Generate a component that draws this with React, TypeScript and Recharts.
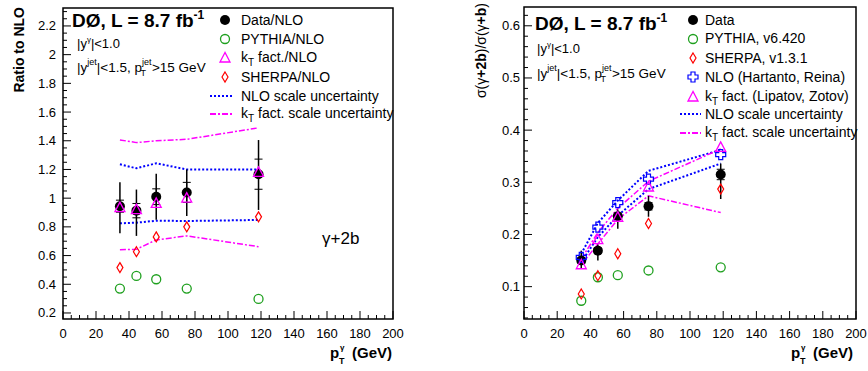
import React from 'react';
import { ComposedChart, Line, Scatter, ErrorBar, XAxis, YAxis, ReferenceArea } from 'recharts';

const FONT = '"Liberation Sans", Arial, Helvetica, sans-serif';

// photon pT bin centres (GeV)
const PT = [34.5, 44.5, 56.5, 75, 118.5];

// left panel: ratio to NLO
const RATIO_DATA = [0.944, 0.913, 1.01, 1.04, 1.167];
const RATIO_ERR_LO = [0.188, 0.176, 0.16, 0.164, 0.249];
const RATIO_ERR_HI = [0.166, 0.147, 0.16, 0.16, 0.238];
const RATIO_SYS = [0.042, 0.05, 0.055, 0.07, 0.105];
const RATIO_PYTHIA = [0.37, 0.458, 0.435, 0.37, 0.298];
const RATIO_KT = [0.934, 0.92, 0.964, 1.0, 1.18];
const RATIO_SHERPA = [0.516, 0.627, 0.73, 0.8, 0.87];
const RATIO_NLO_UP = [1.236, 1.208, 1.243, 1.2, 1.2];
const RATIO_NLO_LO = [0.825, 0.829, 0.843, 0.841, 0.848];
const RATIO_KT_UP = [1.406, 1.387, 1.4, 1.41, 1.49];
const RATIO_KT_LO = [0.64, 0.644, 0.709, 0.737, 0.662];

// right panel: sigma(g+2b)/sigma(g+b)
const FRAC_DATA = [0.15, 0.169, 0.235, 0.254, 0.315];
const FRAC_ERR_LO = [0.016, 0.019, 0.024, 0.02, 0.047];
const FRAC_ERR_HI = [0.019, 0.012, 0.013, 0.02, 0.021];
const FRAC_SYS = [0.005, 0.005, 0.006, 0.007, 0.01];
const FRAC_PYTHIA = [0.073, 0.118, 0.122, 0.131, 0.137];
const FRAC_SHERPA = [0.086, 0.121, 0.163, 0.221, 0.287];
const FRAC_NLO = [0.156, 0.214, 0.261, 0.306, 0.353];
const FRAC_KT = [0.142, 0.19, 0.233, 0.291, 0.367];
const FRAC_NLO_UP = [0.163, 0.222, 0.265, 0.322, 0.362];
const FRAC_NLO_LO = [0.147, 0.195, 0.236, 0.287, 0.336];
const FRAC_KT_UP = [0.153, 0.204, 0.25, 0.302, 0.364];
const FRAC_KT_LO = [0.142, 0.182, 0.229, 0.274, 0.242];

const X_TICKS = Array.from({ length: 41 }, (_, i) => i * 5);
const LEFT_Y_TICKS = Array.from({ length: 43 }, (_, i) => (i + 4) * 5 / 100);
const RIGHT_Y_TICKS = Array.from({ length: 30 }, (_, i) => (i + 2) * 2 / 100);

const ratioRows = PT.map((pt, i) => ({
  pt,
  data: RATIO_DATA[i],
  dataErr: [RATIO_ERR_LO[i], RATIO_ERR_HI[i]],
  dataSys: [RATIO_SYS[i], RATIO_SYS[i]],
  pythia: RATIO_PYTHIA[i],
  kt: RATIO_KT[i],
  sherpa: RATIO_SHERPA[i],
  nloUp: RATIO_NLO_UP[i],
  nloLo: RATIO_NLO_LO[i],
  ktUp: RATIO_KT_UP[i],
  ktLo: RATIO_KT_LO[i],
}));

const fracRows = PT.map((pt, i) => ({
  pt,
  data: FRAC_DATA[i],
  dataErr: [FRAC_ERR_LO[i], FRAC_ERR_HI[i]],
  dataSys: [FRAC_SYS[i], FRAC_SYS[i]],
  pythia: FRAC_PYTHIA[i],
  sherpa: FRAC_SHERPA[i],
  nlo: FRAC_NLO[i],
  kt: FRAC_KT[i],
  nloUp: FRAC_NLO_UP[i],
  nloLo: FRAC_NLO_LO[i],
  ktUp: FRAC_KT_UP[i],
  ktLo: FRAC_KT_LO[i],
}));

const GREEN = '#1fa01f';
const MAGENTA = '#ff00ff';
const RED = '#ff0000';
const BLUE = '#0000ff';

// marker shapes
const DataDot = (p: any) => (p.cx == null ? null : <circle cx={p.cx} cy={p.cy} r={5} fill="#000" />);
const OpenCircle = (p: any) =>
  p.cx == null ? null : <circle cx={p.cx} cy={p.cy} r={4.5} fill="none" stroke={GREEN} strokeWidth={1.3} />;
const Triangle = (p: any) =>
  p.cx == null ? null : (
    <polygon
      points={`${p.cx},${p.cy - 5.5} ${p.cx - 5},${p.cy + 4} ${p.cx + 5},${p.cy + 4}`}
      fill="none"
      stroke={MAGENTA}
      strokeWidth={1.3}
    />
  );
const Diamond = (p: any) =>
  p.cx == null ? null : (
    <polygon
      points={`${p.cx},${p.cy - 5} ${p.cx + 3},${p.cy} ${p.cx},${p.cy + 5} ${p.cx - 3},${p.cy}`}
      fill="none"
      stroke={RED}
      strokeWidth={1.2}
    />
  );
const Cross = (p: any) => {
  if (p.cx == null) return null;
  const { cx, cy } = p;
  const s = 2;
  const l = 5;
  const pts = [
    [cx - s, cy - l], [cx + s, cy - l], [cx + s, cy - s], [cx + l, cy - s], [cx + l, cy + s], [cx + s, cy + s],
    [cx + s, cy + l], [cx - s, cy + l], [cx - s, cy + s], [cx - l, cy + s], [cx - l, cy - s], [cx - s, cy - s],
  ];
  return <polygon points={pts.map((q) => q.join(',')).join(' ')} fill="none" stroke={BLUE} strokeWidth={1.2} />;
};

const XTick = (props: any) => {
  const { x, y, payload } = props;
  const v = payload.value;
  const major = v % 20 === 0;
  return (
    <g>
      <line x1={x} x2={x} y1={y} y2={y - (major ? 8 : 4)} stroke="#000" />
      {major && (
        <text x={x} y={y + 19} textAnchor="middle" fontSize={13} fontFamily={FONT} fill="#000">
          {v}
        </text>
      )}
    </g>
  );
};

const makeYTick = (step: number, gap: number) => (props: any) => {
  const { x, y, payload } = props;
  const v = payload.value;
  const major = Math.abs(v / step - Math.round(v / step)) < 1e-6;
  return (
    <g>
      <line x1={x} x2={x + (major ? 8 : 4)} y1={y} y2={y} stroke="#000" />
      {major && (
        <text x={x - gap} y={y + 4.5} textAnchor="end" fontSize={13} fontFamily={FONT} fill="#000">
          {String(v)}
        </text>
      )}
    </g>
  );
};

const LeftYTick = makeYTick(0.2, 7);
const RightYTick = makeYTick(0.1, 4);

const NLO_DASH = '2 2';
const KT_DASH = '6 2 2 2';

const LEFT_DOMAIN: [number, number] = [0.158, 2.325];
const RIGHT_DOMAIN: [number, number] = [0.038, 0.636];

const LegendLine = ({ x1, x2, y, color, dash }: any) => (
  <line x1={x1} x2={x2} y1={y} y2={y} stroke={color} strokeWidth={2} strokeDasharray={dash} />
);

const Overlay = () => (
  <svg
    width={868}
    height={371}
    style={{ position: 'absolute', left: 0, top: 0, pointerEvents: 'none' }}
    fontFamily={FONT}
  >
    {/* left panel text */}
    <text transform="rotate(-90, 24, 7)" x={24} y={7} textAnchor="end" fontSize={14} fontWeight="bold">
      Ratio to NLO
    </text>
    <text x={72} y={27} fontSize={19} fontWeight="bold">
      DØ, L = 8.7 fb<tspan dy={-8} fontSize={12}>-1</tspan>
    </text>
    <text x={77} y={48} fontSize={13}>
      |y<tspan dy={-6} fontSize={8}>γ</tspan>
      <tspan dy={6}>|&lt;1.0</tspan>
    </text>
    <text x={77} y={72} fontSize={13.5}>
      |y<tspan dy={-7} fontSize={9}>jet</tspan>
      <tspan dy={7}>|&lt;1.5, p</tspan>
      <tspan dy={-7} fontSize={9}>jet</tspan>
      <tspan dx={-11} dy={11} fontSize={9}>T</tspan>
      <tspan dx={6} dy={-4}>&gt;15 GeV</tspan>
    </text>
    <text x={322} y={244} fontSize={17}>γ+2b</text>
    <text x={330} y={358} fontSize={15} fontWeight="bold">p</text>
    <text x={340} y={350} fontSize={8} fontWeight="bold">γ</text>
    <text x={339} y={364} fontSize={9} fontWeight="bold">T</text>
    <text x={352} y={358} fontSize={15} fontWeight="bold">(GeV)</text>

    {/* left legend */}
    <circle cx={225} cy={20} r={5} fill="#000" />
    <text x={241} y={25} fontSize={14}>Data/NLO</text>
    <OpenCircle cx={225} cy={39} />
    <text x={241} y={44} fontSize={14}>PYTHIA/NLO</text>
    <Triangle cx={225} cy={58} />
    <text x={241} y={62} fontSize={14}>
      k<tspan dy={4} fontSize={10}>T</tspan>
      <tspan dy={-4}> fact./NLO</tspan>
    </text>
    <Diamond cx={225} cy={77} />
    <text x={241} y={82} fontSize={14}>SHERPA/NLO</text>
    <LegendLine x1={210} x2={233} y={96} color={BLUE} dash={NLO_DASH} />
    <text x={241} y={101} fontSize={14}>NLO scale uncertainty</text>
    <LegendLine x1={210} x2={233} y={114} color={MAGENTA} dash={KT_DASH} />
    <text x={241} y={118} fontSize={14}>
      k<tspan dy={4} fontSize={10}>T</tspan>
      <tspan dy={-4}> fact. scale uncertainty</tspan>
    </text>

    {/* right panel text */}
    <text transform="rotate(-90, 486, 3)" x={486} y={3} textAnchor="end" fontSize={14}>
      σ(γ<tspan fontWeight="bold">+2b</tspan>)/σ(γ<tspan fontWeight="bold">+b</tspan>)
    </text>
    <text x={535} y={30} fontSize={19} fontWeight="bold">
      DØ, L = 8.7 fb<tspan dy={-8} fontSize={12}>-1</tspan>
    </text>
    <text x={537} y={53} fontSize={13}>
      |y<tspan dy={-6} fontSize={8}>γ</tspan>
      <tspan dy={6}>|&lt;1.0</tspan>
    </text>
    <text x={537} y={78} fontSize={13.5}>
      |y<tspan dy={-7} fontSize={9}>jet</tspan>
      <tspan dy={7}>|&lt;1.5, p</tspan>
      <tspan dy={-7} fontSize={9}>jet</tspan>
      <tspan dx={-11} dy={11} fontSize={9}>T</tspan>
      <tspan dx={6} dy={-4}>&gt;15 GeV</tspan>
    </text>
    <text x={791} y={358} fontSize={15} fontWeight="bold">p</text>
    <text x={801} y={350} fontSize={8} fontWeight="bold">γ</text>
    <text x={800} y={364} fontSize={9} fontWeight="bold">T</text>
    <text x={813} y={358} fontSize={15} fontWeight="bold">(GeV)</text>

    {/* right legend */}
    <circle cx={693} cy={20} r={5} fill="#000" />
    <text x={705} y={25} fontSize={14}>Data</text>
    <OpenCircle cx={693} cy={39} />
    <text x={705} y={43} fontSize={14}>PYTHIA, v6.420</text>
    <Diamond cx={693} cy={58} />
    <text x={705} y={63} fontSize={14}>SHERPA, v1.3.1</text>
    <Cross cx={693} cy={77} />
    <text x={705} y={82} fontSize={14}>NLO (Hartanto, Reina)</text>
    <Triangle cx={693} cy={97} />
    <text x={705} y={101} fontSize={14}>
      k<tspan dy={4} fontSize={10}>T</tspan>
      <tspan dy={-4}> fact. (Lipatov, Zotov)</tspan>
    </text>
    <LegendLine x1={680} x2={701} y={114} color={BLUE} dash={NLO_DASH} />
    <text x={705} y={119} fontSize={14}>NLO scale uncertainty</text>
    <LegendLine x1={680} x2={701} y={133} color={MAGENTA} dash={KT_DASH} />
    <text x={705} y={137} fontSize={14}>
      k<tspan dy={4} fontSize={10}>T</tspan>
      <tspan dy={-4}> fact. scale uncertainty</tspan>
    </text>
  </svg>
);

const App = () => (
  <div style={{ position: 'absolute', left: 0, top: 0, width: 868, height: 371, background: '#fff', fontFamily: FONT }}>
    <div style={{ position: 'absolute', left: 0, top: 0 }}>
      <ComposedChart width={420} height={371} data={ratioRows} margin={{ top: 8, right: 27, bottom: 0, left: 0 }}>
        <XAxis
          dataKey="pt"
          type="number"
          domain={[0, 200]}
          ticks={X_TICKS}
          interval={0}
          tick={XTick}
          tickSize={0}
          tickMargin={0}
          axisLine={false}
          tickLine={false}
          height={52}
          allowDataOverflow
        />
        <YAxis
          type="number"
          domain={LEFT_DOMAIN}
          ticks={LEFT_Y_TICKS}
          interval={0}
          tick={LeftYTick}
          tickSize={0}
          tickMargin={0}
          axisLine={false}
          tickLine={false}
          width={63}
          allowDataOverflow
        />
        <Line dataKey="ktUp" stroke={MAGENTA} strokeWidth={1.5} strokeDasharray={KT_DASH} dot={false} isAnimationActive={false} />
        <Line dataKey="ktLo" stroke={MAGENTA} strokeWidth={1.5} strokeDasharray={KT_DASH} dot={false} isAnimationActive={false} />
        <Line dataKey="nloUp" stroke={BLUE} strokeWidth={2} strokeDasharray={NLO_DASH} dot={false} isAnimationActive={false} />
        <Line dataKey="nloLo" stroke={BLUE} strokeWidth={2} strokeDasharray={NLO_DASH} dot={false} isAnimationActive={false} />
        <Scatter dataKey="data" shape={DataDot} isAnimationActive={false}>
          <ErrorBar dataKey="dataErr" direction="y" width={0} stroke="#000" strokeWidth={1.5} />
          <ErrorBar dataKey="dataSys" direction="y" width={4} stroke="#000" strokeWidth={1} />
        </Scatter>
        <Scatter dataKey="pythia" shape={OpenCircle} isAnimationActive={false} />
        <Scatter dataKey="sherpa" shape={Diamond} isAnimationActive={false} />
        <Scatter dataKey="kt" shape={Triangle} isAnimationActive={false} />
        <ReferenceArea x1={0} x2={200} y1={LEFT_DOMAIN[0]} y2={LEFT_DOMAIN[1]} fill="none" fillOpacity={0} stroke="#000" strokeWidth={1.5} ifOverflow="visible" />
      </ComposedChart>
    </div>
    <div style={{ position: 'absolute', left: 461, top: 0 }}>
      <ComposedChart width={407} height={371} data={fracRows} margin={{ top: 7, right: 12, bottom: 0, left: 0 }}>
        <XAxis
          dataKey="pt"
          type="number"
          domain={[0, 200]}
          ticks={X_TICKS}
          interval={0}
          tick={XTick}
          tickSize={0}
          tickMargin={0}
          axisLine={false}
          tickLine={false}
          height={52}
          allowDataOverflow
        />
        <YAxis
          type="number"
          domain={RIGHT_DOMAIN}
          ticks={RIGHT_Y_TICKS}
          interval={0}
          tick={RightYTick}
          tickSize={0}
          tickMargin={0}
          axisLine={false}
          tickLine={false}
          width={63}
          allowDataOverflow
        />
        <Line dataKey="nloUp" stroke={BLUE} strokeWidth={2} strokeDasharray={NLO_DASH} dot={false} isAnimationActive={false} />
        <Line dataKey="nloLo" stroke={BLUE} strokeWidth={2} strokeDasharray={NLO_DASH} dot={false} isAnimationActive={false} />
        <Line dataKey="ktUp" stroke={MAGENTA} strokeWidth={1.5} strokeDasharray={KT_DASH} dot={false} isAnimationActive={false} />
        <Line dataKey="ktLo" stroke={MAGENTA} strokeWidth={1.5} strokeDasharray={KT_DASH} dot={false} isAnimationActive={false} />
        <Scatter dataKey="data" shape={DataDot} isAnimationActive={false}>
          <ErrorBar dataKey="dataErr" direction="y" width={0} stroke="#000" strokeWidth={1.5} />
          <ErrorBar dataKey="dataSys" direction="y" width={4} stroke="#000" strokeWidth={1} />
        </Scatter>
        <Scatter dataKey="pythia" shape={OpenCircle} isAnimationActive={false} />
        <Scatter dataKey="sherpa" shape={Diamond} isAnimationActive={false} />
        <Scatter dataKey="nlo" shape={Cross} isAnimationActive={false} />
        <Scatter dataKey="kt" shape={Triangle} isAnimationActive={false} />
        <ReferenceArea x1={0} x2={200} y1={RIGHT_DOMAIN[0]} y2={RIGHT_DOMAIN[1]} fill="none" fillOpacity={0} stroke="#000" strokeWidth={1.5} ifOverflow="visible" />
      </ComposedChart>
    </div>
    <Overlay />
  </div>
);

export default App;
